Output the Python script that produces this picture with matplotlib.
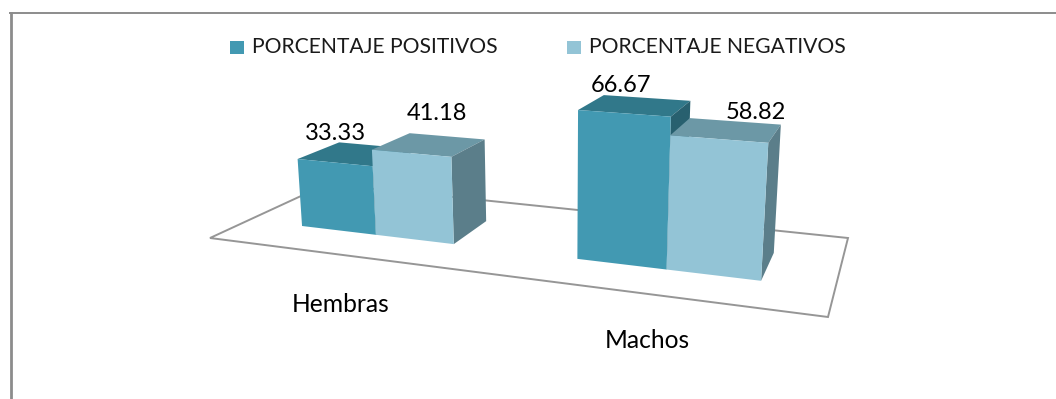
"""3D clustered bar chart drawn with a small perspective projection."""

import matplotlib
matplotlib.use("Agg")
import matplotlib.pyplot as plt
import numpy as np

categories = ["Hembras", "Machos"]
series_names = ["PORCENTAJE POSITIVOS", "PORCENTAJE NEGATIVOS"]
positivos = [33.33, 66.67]
negativos = [41.18, 58.82]

# front, top, side colours
POS_COLORS = ("#4299B2", "#31788A", "#28606F")
NEG_COLORS = ("#93C4D6", "#6C98A6", "#5B7E8A")
LINE = "#969696"
W, H = 1056, 399

# floor corners on screen: front-left, front-right, back-right, back-left
FLOOR = [(210, 238), (828, 317), (848, 238), (327, 184)]
BAR_W = 0.1435
DEPTH = (0.30, 0.67)
# vertical axis: uprights spread slightly towards the top
K, LEAN, PERSP = 2.17, -0.294, -0.000525


def _floor_matrix():
    """Homography from the unit square to the floor corners."""
    uv = [(0, 0), (1, 0), (1, 1), (0, 1)]
    rows, rhs = [], []
    for (u, v), (x, y) in zip(uv, FLOOR):
        rows.append([u, v, 1, 0, 0, 0, -u * x, -v * x])
        rows.append([0, 0, 0, u, v, 1, -u * y, -v * y])
        rhs += [x, y]
    a, b, c, d, e, f, g, h = np.linalg.solve(np.array(rows, float), np.array(rhs, float))
    return a, b, c, d, e, f, g, h


A, B, C, D, E, F, G, I = _floor_matrix()


def project(u, v, z=0.0):
    """Floor position (u, v) and value z to screen pixels."""
    w = G * u + I * v + 1 + PERSP * z
    return (A * u + B * v + C + LEAN * z) / w, (D * u + E * v + F - K * z) / w


def draw_bar(ax, u0, u1, value, colors):
    v0, v1 = DEPTH
    front = [project(u0, v0), project(u1, v0), project(u1, v0, value), project(u0, v0, value)]
    top = [project(u0, v0, value), project(u1, v0, value), project(u1, v1, value), project(u0, v1, value)]
    side = [project(u1, v0), project(u1, v1), project(u1, v1, value), project(u1, v0, value)]
    for poly, col in zip((top, side, front), (colors[1], colors[2], colors[0])):
        ax.fill(*zip(*poly), facecolor=col, edgecolor="none", zorder=3)


fig = plt.figure(figsize=(W / 100, H / 100), dpi=100, facecolor="white")
ax = fig.add_axes([0, 0, 1, 1])
ax.set_xlim(0, W)
ax.set_ylim(H, 0)
ax.set_axis_off()
plt.rcParams["font.family"] = ["Lato", "DejaVu Sans"]

# chart frame, open on the right
ax.plot([10.5, 10.5], [H, 12], color="#8c8c8c", lw=2.0, zorder=1, solid_capstyle="butt")
ax.plot([9, W], [13, 13], color="#8c8c8c", lw=1.4, zorder=1, solid_capstyle="butt")

# floor
ax.fill(*zip(*FLOOR), facecolor="white", edgecolor=LINE, lw=1.4, zorder=2)

# bars, labels
label_offsets = [[(-20, -20), (7, -31)], [(-15, -20), (29, -17)]]
for i, cat in enumerate(categories):
    mid = (i + 0.5) / len(categories)
    for j, (vals, colors) in enumerate(((positivos, POS_COLORS), (negativos, NEG_COLORS))):
        u0 = mid - BAR_W + j * BAR_W
        draw_bar(ax, u0, u0 + BAR_W, vals[i], colors)
        tx, ty = project(u0 + BAR_W / 2, sum(DEPTH) / 2, vals[i])
        dx, dy = label_offsets[i][j]
        ax.text(tx + dx, ty + dy, f"{vals[i]:.2f}", ha="center", va="center",
                fontsize=17, color="black", zorder=5)

# category labels, below the floor
for cat, (x, y) in zip(categories, [(341, 304), (647, 341)]):
    ax.text(x, y, cat, ha="center", va="center", fontsize=17.7, color="black", zorder=5)

# legend
for name, col, sx, tx in zip(series_names, (POS_COLORS[0], NEG_COLORS[0]), (230, 567), (252, 589)):
    ax.fill([sx, sx + 14, sx + 14, sx], [41, 41, 54, 54], facecolor=col, edgecolor="none", zorder=5)
    ax.text(tx, 47, name, ha="left", va="center", fontsize=15.2, color="#1a1a1a", zorder=5)

fig.savefig("out.png", dpi=100, facecolor="white")
